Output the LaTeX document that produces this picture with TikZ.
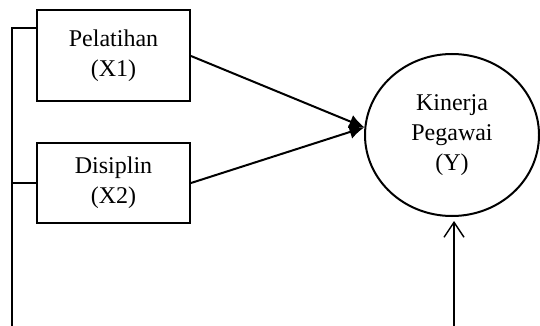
\documentclass[tikz,border=0pt]{standalone}
\usepackage{fontspec}
\setmainfont{Liberation Serif}
\usetikzlibrary{arrows.meta,shapes.geometric}

\begin{document}
\begin{tikzpicture}[x=0.5pt,y=-0.5pt]
	\tikzset{varbox/.style={draw, line width=1pt, minimum width=76.5pt, align=center, inner sep=0pt, font=\fontsize{12}{15}\selectfont},
		varcircle/.style={ellipse, draw, line width=1pt, minimum width=87pt, minimum height=81pt, inner sep=0pt, align=center, font=\fontsize{12}{15}\selectfont},
		wire/.style={line width=0.7pt},
		effect/.style={line width=1pt, -{Latex[length=7.5pt,width=7pt]}},
		residual/.style={line width=0.7pt, -{Straight Barb[length=7.5pt,width=10pt,line width=0.7pt]}}}
	\useasboundingbox (0,0) rectangle (540,326);

	\draw (113.5,56) node [varbox, minimum height=45.5pt] (X1) {Pelatihan\\(X1)};
	\draw (113.5,183) node [varbox, minimum height=40pt] (X2) {Disiplin\\(X2)};
	\draw (452,135) node [varcircle] (Y) {Kinerja\\Pegawai\\(Y)};

	\coordinate (busTop) at (12,28);
	\coordinate (busBot) at (12,326);
	\coordinate (err) at (454,326);

	\draw [wire] (busBot) -- (busTop) -- (busTop -| X1.west);
	\draw [wire] (X2.west) -- (X2.west -| busTop);

	\draw [effect] (X1.east) -- (Y.175);
	\draw [effect] (X2.east) -- (Y.175);

	\draw [residual, shorten >=2pt] (err) -- (err |- Y.south);
\end{tikzpicture}
\end{document}
